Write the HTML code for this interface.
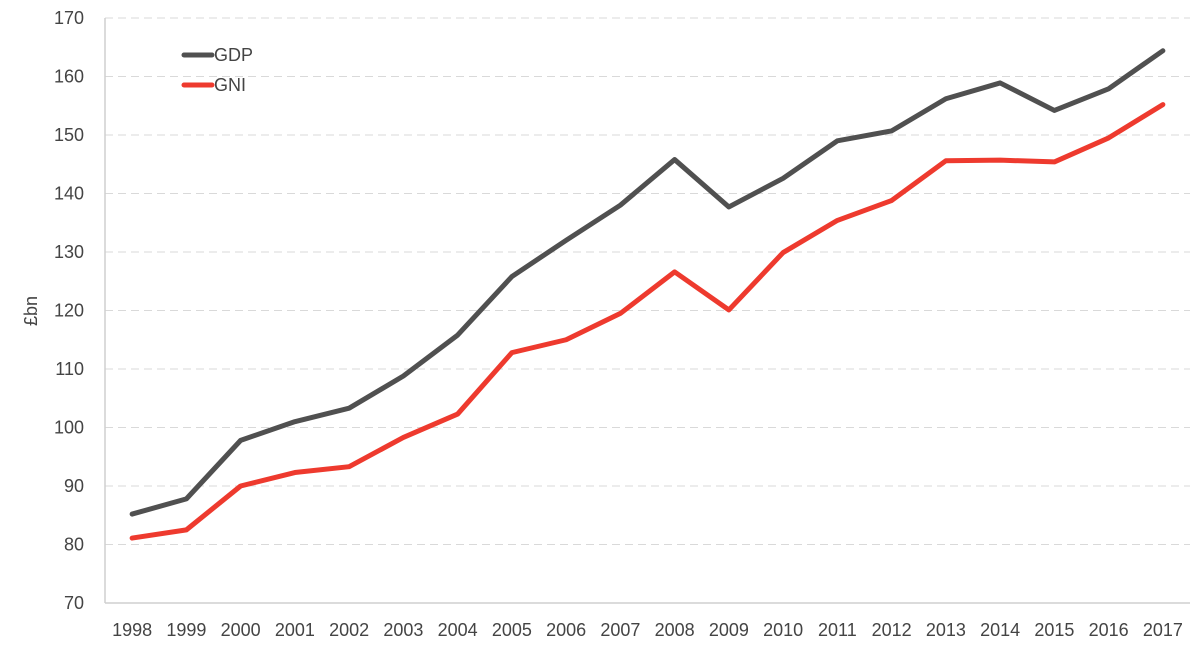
<!DOCTYPE html>
<html><head><meta charset="utf-8"><style>
html,body{margin:0;padding:0;background:#fff;}
svg{display:block;font-family:"Liberation Sans",Arial,sans-serif;}
</style></head><body>
<svg id="chart" width="1200" height="646"></svg>
<script>
const years=["1998","1999","2000","2001","2002","2003","2004","2005","2006","2007","2008","2009","2010","2011","2012","2013","2014","2015","2016","2017"];
const gdp=[85.2,87.8,97.8,101,103.3,108.8,115.8,125.8,132,138,145.8,137.7,142.6,149,150.7,156.2,158.9,154.2,157.9,164.4];
const gni=[81.1,82.5,90,92.3,93.3,98.3,102.3,112.8,115,119.5,126.6,120.1,129.9,135.4,138.8,145.6,145.7,145.4,149.5,155.2];
const yTicks=[70,80,90,100,110,120,130,140,150,160,170];
const NS="http://www.w3.org/2000/svg";
const svg=document.getElementById('chart');
const x0=105,x1=1190,yMin=70,yMax=170,py0=603,py1=18;
const step=(x1-x0)/years.length;
const X=i=>x0+step*(i+0.5);
const Y=v=>py0-(v-yMin)/(yMax-yMin)*(py0-py1);
const TXT='#444';
function mk(t,a,p){const e=document.createElementNS(NS,t);for(const k in a)e.setAttribute(k,a[k]);(p||svg).appendChild(e);return e;}
const grid=mk('g',{});


yTicks.forEach(v=>{
  if(v>yMin){const l=mk('line',{x1:x0,x2:x1,y1:Y(v),y2:Y(v),stroke:'#d9d9d9','stroke-width':1,'stroke-dasharray':'8,5'},grid);
  
  }
  const t=mk('text',{x:84,y:Y(v)+6,'text-anchor':'end','font-size':18,fill:TXT});
  t.textContent=v;
  
  
});
const ax=mk('line',{x1:x0,x2:x1,y1:py0,y2:py0,stroke:'#cfcfcf','stroke-width':1.5});


const ay=mk('line',{x1:x0,x2:x0,y1:py1,y2:py0,stroke:'#cfcfcf','stroke-width':1.5});


years.forEach((yr,i)=>{
  const t=mk('text',{x:X(i),y:636,'text-anchor':'middle','font-size':18,fill:TXT});
  t.textContent=yr;
  
  
});
const yt=mk('text',{x:0,y:0,transform:'translate(37,311) rotate(-90)','text-anchor':'middle','font-size':18,fill:TXT});
yt.textContent='£bn';


function series(vals,color,name){
  const p=mk('polyline',{points:vals.map((v,i)=>X(i)+','+Y(v)).join(' '),fill:'none',stroke:color,'stroke-width':5,'stroke-linejoin':'round','stroke-linecap':'round'});
  
  
}
series(gdp,'#505050','gdp-line');
series(gni,'#ee3a2e','gni-line');
[['GDP','#505050',55],['GNI','#ee3a2e',85]].forEach(([n,c,y])=>{
  const g=mk('g',{});
  
  
  mk('line',{x1:184,x2:212,y1:y,y2:y,stroke:c,'stroke-width':5,'stroke-linecap':'round'},g);
  const t=mk('text',{x:214,y:y+6,'font-size':18,fill:TXT},g);
  t.textContent=n;
});
</script>
</body></html>
